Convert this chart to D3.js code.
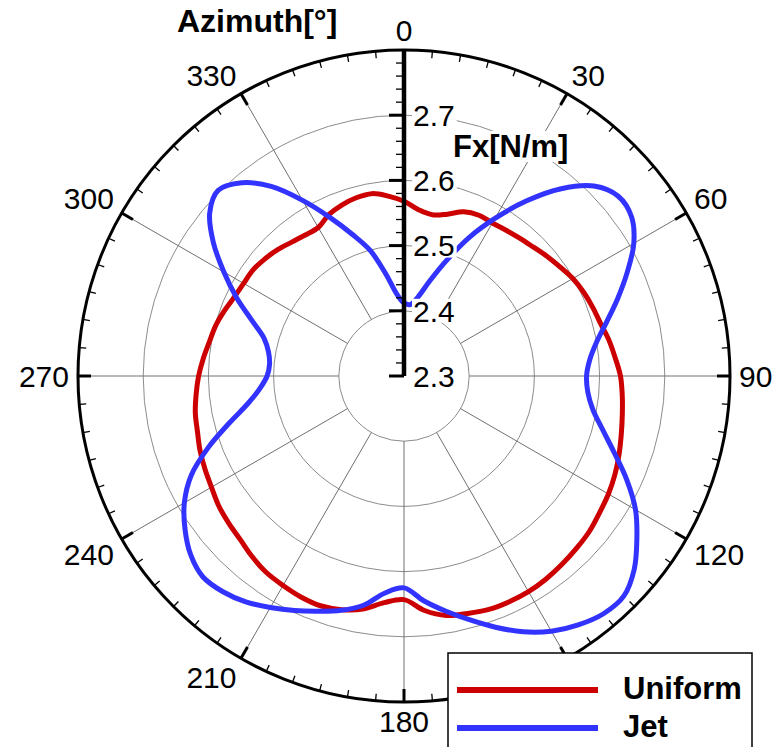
<!DOCTYPE html>
<html><head><meta charset="utf-8">
<script src="https://cdn.jsdelivr.net/npm/d3@7"></script>
<style>body{margin:0;background:#fff} svg{display:block}</style>
</head><body>
<svg id="chart" width="782" height="747"></svg>
<script>
// ---------------- DATA ----------------
const angles = [0,5,10,15,20,25,30,35,40,45,50,55,60,65,70,75,80,85,90,95,100,105,110,115,120,125,130,135,140,145,150,155,160,165,170,175,
  180,185,190,195,200,205,210,215,220,225,230,235,240,245,250,255,260,265,270,275,280,285,290,295,300,305,310,315,320,325,330,335,340,345,350,355];
const uniformValues = [2.568,2.556,2.551,2.557,2.568,2.572,2.571,2.573,2.576,2.580,2.586,2.592,2.599,2.604,2.608,2.612,2.619,2.625,2.632,2.636,2.640,2.645,2.651,2.657,2.662,2.666,2.671,2.674,2.677,2.680,2.682,2.682,2.681,2.677,2.673,2.661,
  2.643,2.649,2.663,2.671,2.675,2.674,2.671,2.668,2.662,2.655,2.651,2.647,2.641,2.637,2.633,2.628,2.625,2.620,2.615,2.609,2.603,2.599,2.593,2.587,2.584,2.583,2.579,2.574,2.568,2.564,2.563,2.573,2.579,2.583,2.584,2.577];
const jetValues = [2.412,2.410,2.423,2.450,2.487,2.533,2.579,2.628,2.675,2.712,2.729,2.726,2.707,2.678,2.649,2.622,2.600,2.586,2.580,2.583,2.594,2.615,2.643,2.677,2.710,2.736,2.761,2.777,2.776,2.766,2.752,2.733,2.710,2.687,2.666,2.646,
  2.625,2.634,2.657,2.672,2.684,2.697,2.710,2.723,2.732,2.736,2.727,2.710,2.689,2.660,2.619,2.577,2.543,2.522,2.510,2.507,2.511,2.522,2.548,2.583,2.619,2.657,2.689,2.703,2.687,2.655,2.611,2.568,2.531,2.499,2.458,2.426];
const radialTicks = [2.3,2.4,2.5,2.6,2.7];
const gridCircles = [2.4,2.5,2.6,2.7];
const angleTicks = [0,30,60,90,120,150,180,210,240,270,300,330];
const seriesNames = ["Uniform","Jet"];
const seriesColors = ["#cc0000","#3333ff"];

// ---------------- LAYOUT ----------------
const cx = 404, cy = 376, R = 326;
const svg = d3.select("#chart");
const r = d3.scaleLinear().domain([2.3, 2.8]).range([0, R]);
const rad = d => d * Math.PI / 180;
const g = svg.append("g").attr("transform", `translate(${cx},${cy})`);
const FONT = "'Liberation Sans', Arial, Helvetica, sans-serif";

// grid circles
g.selectAll("circle.grid").data(gridCircles).join("circle")
  .attr("class","grid").attr("r", d => r(d))
  .attr("fill","none").attr("stroke","#8c8c8c").attr("stroke-width",1);

// spokes
g.selectAll("line.spoke").data(angleTicks).join("line")
  .attr("class","spoke")
  .attr("x1", d => r(2.4)*Math.sin(rad(d))).attr("y1", d => -r(2.4)*Math.cos(rad(d)))
  .attr("x2", d => R*Math.sin(rad(d))).attr("y2", d => -R*Math.cos(rad(d)))
  .attr("stroke","#707070").attr("stroke-width",1);

// curves
const lineGen = d3.lineRadial()
  .angle((d,i) => rad(angles[i]))
  .radius(d => r(d))
  .curve(d3.curveCatmullRomClosed.alpha(0.5));
[uniformValues, jetValues].forEach((vals, k) => {
  g.append("path").datum(vals).attr("d", lineGen)
    .attr("fill","none").attr("stroke", seriesColors[k])
    .attr("stroke-width",5).attr("stroke-linejoin","round");
});

// outer circle
g.append("circle").attr("r", R).attr("fill","none").attr("stroke","#000").attr("stroke-width",3);
// outer ticks: minor every 5 deg, major every 30 deg
const minorAng = d3.range(0, 360, 5).filter(a => a % 30 !== 0);
g.selectAll("line.minA").data(minorAng).join("line")
  .attr("x1", d => R*Math.sin(rad(d))).attr("y1", d => -R*Math.cos(rad(d)))
  .attr("x2", d => (R-7)*Math.sin(rad(d))).attr("y2", d => -(R-7)*Math.cos(rad(d)))
  .attr("stroke","#000").attr("stroke-width",1.3);
g.selectAll("line.majA").data(angleTicks).join("line")
  .attr("x1", d => R*Math.sin(rad(d))).attr("y1", d => -R*Math.cos(rad(d)))
  .attr("x2", d => (R-13)*Math.sin(rad(d))).attr("y2", d => -(R-13)*Math.cos(rad(d)))
  .attr("stroke","#000").attr("stroke-width",3);

// radial axis
g.append("line").attr("x1",0).attr("y1",0).attr("x2",0).attr("y2",-R)
  .attr("stroke","#000").attr("stroke-width",4.5);
const minorR = r.ticks(25).filter(v => !radialTicks.some(t => Math.abs(t-v) < 1e-9) && v < 2.8 - 1e-9);
g.selectAll("line.minR").data(minorR).join("line")
  .attr("x1",-8).attr("x2",0).attr("y1", d => -r(d)).attr("y2", d => -r(d))
  .attr("stroke","#000").attr("stroke-width",1.3);
g.selectAll("line.majR").data(radialTicks).join("line")
  .attr("x1",-15).attr("x2",0).attr("y1", d => -r(d)).attr("y2", d => -r(d))
  .attr("stroke","#000").attr("stroke-width",3);

// radial labels with white boxes
const fsT = 30;
const rl = g.selectAll("g.rlab").data(radialTicks).join("g").attr("class","rlab")
  .attr("transform", d => `translate(8,${-r(d)})`);
rl.append("rect").attr("x",0).attr("y",-12).attr("height",24).attr("fill","#fff");
rl.append("text").attr("x",1).attr("y",0).attr("dy","0.36em")
  .attr("font-family",FONT).attr("font-size",fsT).attr("fill","#000")
  .text(d => d3.format(".1f")(d));
rl.each(function(){
  const t = d3.select(this).select("text").node();
  d3.select(this).select("rect").attr("width", t.getComputedTextLength()+3);
});

// angular labels: nearest box corner/edge placed on ray at R+gap
const gap = 9, capH = 0.716 * fsT, eps = 1e-6;
angleTicks.forEach(a => {
  const s = Math.sin(rad(a)), c = Math.cos(rad(a));
  const px = (R + gap) * s, py = -(R + gap) * c;
  const t = g.append("text").attr("font-family",FONT).attr("font-size",fsT).text(String(a));
  const w = t.node().getComputedTextLength();
  let left;
  if (s > eps) left = px; else if (s < -eps) left = px - w; else left = px - w/2;
  let base;
  if (c > eps) base = py; else if (c < -eps) base = py + capH; else base = py + capH/2;
  t.attr("x", left).attr("y", base);
});

// axis titles
svg.append("text").attr("x",177).attr("y",32).attr("font-family",FONT)
  .attr("font-size",32).attr("font-weight","bold").text("Azimuth[°]");
const fx = svg.append("g");
const fxT = fx.append("text").attr("x",453).attr("y",157).attr("font-family",FONT)
  .attr("font-size",31).attr("font-weight","bold").text("Fx[N/m]");
const bb = fxT.node().getBBox();
fx.insert("rect","text").attr("x",bb.x-2).attr("y",bb.y+2).attr("width",bb.width+4).attr("height",bb.height-4).attr("fill","#fff");

// legend
const lg = svg.append("g");
lg.append("rect").attr("x",448).attr("y",653).attr("width",304).attr("height",120)
  .attr("fill","#fff").attr("stroke","#000").attr("stroke-width",1.5);
seriesNames.forEach((n,i) => {
  const y = 690 + i*38;
  lg.append("line").attr("x1",457).attr("x2",598).attr("y1",y).attr("y2",y)
    .attr("stroke",seriesColors[i]).attr("stroke-width",6);
  lg.append("text").attr("x",623).attr("y",y+9).attr("font-family",FONT)
    .attr("font-size",31).attr("font-weight","bold").text(n);
});
</script>
</body></html>
